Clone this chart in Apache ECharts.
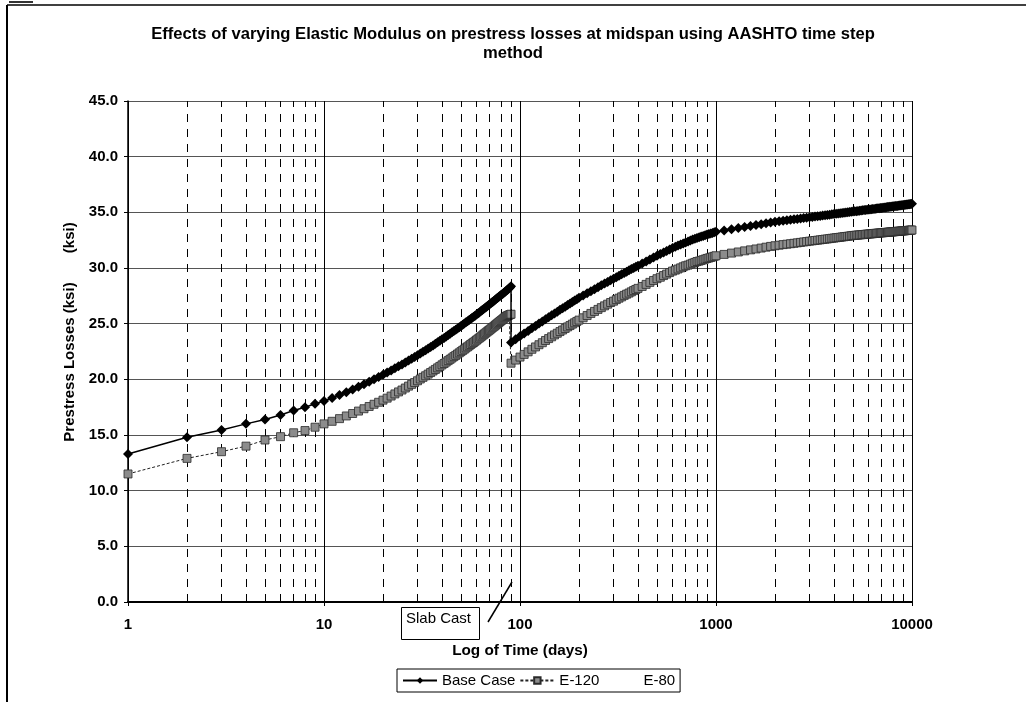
<!DOCTYPE html>
<html>
<head>
<meta charset="utf-8">
<script src="https://cdn.jsdelivr.net/npm/echarts@6/dist/echarts.min.js"></script>
<style>
html,body{margin:0;padding:0;background:#fff;}
#chart{width:1026px;height:702px;}
</style>
</head>
<body>
<div id="chart"></div>
<script>
// ---- data ----
var titleText = 'Effects of varying Elastic Modulus on prestress losses at midspan using AASHTO time step\nmethod';
var xAxisName = 'Log of Time (days)';
var yAxisName = 'Prestress Losses (ksi)       (ksi)';
var seriesNames = ['Base Case', 'E-120', 'E-80'];
var annotationText = 'Slab Cast';
var yTicks = [0, 5, 10, 15, 20, 25, 30, 35, 40, 45];
var xMajorTicks = [1, 10, 100, 1000, 10000];
var xMinorTicks = [2,3,4,5,6,7,8,9,20,30,40,50,60,70,80,90,200,300,400,500,600,700,800,900,2000,3000,4000,5000,6000,7000,8000,9000];

// before slab cast (daily)
var preDays = [1,2,3,4,5,6,7,8,9,10,11,12,13,14,15,16,17,18,19,20,21,22,23,24,25,26,27,28,29,30,
31,32,33,34,35,36,37,38,39,40,41,42,43,44,45,46,47,48,49,50,51,52,53,54,55,56,57,58,59,60,
61,62,63,64,65,66,67,68,69,70,71,72,73,74,75,76,77,78,79,80,81,82,83,84,85,86,87,88,89,90];
var preBase = [13.3,14.8,15.45,16.0,16.4,16.8,17.2,17.5,17.8,18.05,
18.33,18.59,18.85,19.09,19.33,19.56,19.78,20.0,20.2,20.41,
20.61,20.8,20.99,21.17,21.34,21.52,21.69,21.85,22.01,22.17,
22.33,22.48,22.62,22.77,22.91,23.05,23.19,23.33,23.46,23.6,
23.72,23.85,23.98,24.1,24.22,24.34,24.45,24.57,24.68,24.79,
24.9,25.01,25.12,25.22,25.32,25.43,25.53,25.62,25.72,25.82,
25.92,26.01,26.11,26.2,26.3,26.39,26.48,26.57,26.66,26.74,
26.83,26.92,27.0,27.08,27.17,27.25,27.33,27.41,27.49,27.57,
27.64,27.72,27.8,27.87,27.95,28.02,28.09,28.17,28.24,28.35];
var preE120 = [11.5,12.9,13.5,14.0,14.55,14.85,15.2,15.4,15.7,16.0,
16.23,16.47,16.71,16.93,17.15,17.36,17.56,17.76,17.94,18.13,
18.31,18.5,18.69,18.87,19.04,19.22,19.39,19.55,19.71,19.87,
20.03,20.18,20.32,20.47,20.61,20.75,20.89,21.03,21.16,21.3,
21.42,21.55,21.68,21.8,21.92,22.04,22.15,22.27,22.38,22.49,
22.6,22.71,22.82,22.92,23.02,23.13,23.23,23.32,23.42,23.52,
23.62,23.71,23.81,23.9,24.0,24.09,24.18,24.27,24.36,24.44,
24.53,24.62,24.7,24.78,24.87,24.95,25.03,25.11,25.19,25.27,
25.34,25.42,25.5,25.57,25.65,25.7,25.74,25.78,25.82,25.85];

// after slab cast
var postDays = [90,95,100,105,110,115,120,125,130,135,140,145,150,155,160,165,170,175,180,185,190,195,200,
210,220,230,240,250,260,270,280,290,300,310,320,330,340,350,360,370,380,390,400,
420,440,460,480,500,520,540,560,580,600,620,640,660,680,700,720,740,760,780,800,820,840,860,880,900,920,940,960,980,1000,
1100,1200,1300,1400,1500,1600,1700,1800,1900,2000,2100,2200,2300,2400,2500,2600,2700,2800,2900,3000,
3100,3200,3300,3400,3500,3600,3700,3800,3900,4000,4100,4200,4300,4400,4500,4600,4700,4800,4900,5000,
5100,5200,5300,5400,5500,5600,5700,5800,5900,6000,6100,6200,6300,6400,6500,6600,6700,6800,6900,7000,
7100,7200,7300,7400,7500,7600,7700,7800,7900,8000,8100,8200,8300,8400,8500,8600,8700,8800,8900,9000,
9100,9200,9300,9400,9500,9600,9700,9800,9900,10000];
var postBase = [23.3,23.59,23.86,24.11,24.35,24.58,24.8,25.01,25.2,25.4,25.58,25.75,25.92,26.08,26.24,26.39,26.53,26.68,26.81,26.94,27.07,27.2,27.32,
27.53,27.73,27.92,28.1,28.28,28.44,28.6,28.75,28.9,29.04,29.18,29.31,29.43,29.56,29.67,29.79,29.9,30.01,30.11,30.21,
30.4,30.59,30.77,30.94,31.1,31.25,31.4,31.53,31.67,31.8,31.91,32.01,32.11,32.21,32.3,32.38,32.47,32.55,32.62,32.7,32.76,32.82,32.88,32.94,33.0,33.05,33.1,33.15,33.2,33.25,
33.37,33.49,33.59,33.69,33.78,33.86,33.94,34.02,34.09,34.15,
34.2,34.25,34.29,34.33,34.37,34.41,34.45,34.49,34.52,34.56,
34.59,34.62,34.65,34.68,34.71,34.74,34.76,34.79,34.82,34.84,
34.87,34.89,34.91,34.94,34.96,34.98,35.0,35.02,35.05,35.07,
35.09,35.1,35.12,35.14,35.16,35.18,35.2,35.21,35.23,35.25,
35.26,35.28,35.3,35.31,35.33,35.34,35.36,35.37,35.39,35.4,
35.42,35.43,35.44,35.46,35.47,35.48,35.5,35.51,35.52,35.54,
35.55,35.56,35.57,35.58,35.6,35.61,35.62,35.63,35.64,35.65,
35.66,35.67,35.69,35.7,35.71,35.72,35.73,35.74,35.75,35.76];
var postE120 = [21.45,21.73,22.0,22.24,22.47,22.7,22.91,23.11,23.29,23.49,23.66,23.82,23.99,24.14,24.29,24.43,24.57,24.71,24.83,24.96,25.08,25.2,25.32,
25.53,25.73,25.92,26.1,26.28,26.44,26.6,26.75,26.9,27.02,27.16,27.29,27.41,27.54,27.65,27.75,27.86,27.97,28.07,28.17,
28.34,28.53,28.71,28.88,29.04,29.17,29.32,29.45,29.59,29.72,29.81,29.91,30.01,30.11,30.2,30.26,30.35,30.43,30.5,30.58,30.62,30.68,30.74,30.8,30.86,30.9,30.95,31.0,31.05,31.1,
31.22,31.34,31.44,31.54,31.63,31.71,31.79,31.87,31.94,32.0,
32.05,32.1,32.14,32.18,32.22,32.26,32.3,32.34,32.37,32.41,
32.44,32.47,32.5,32.53,32.56,32.59,32.61,32.64,32.67,32.69,
32.72,32.74,32.76,32.79,32.81,32.83,32.85,32.87,32.9,32.92,
32.93,32.95,32.96,32.97,32.99,33.0,33.01,33.03,33.04,33.05,
33.06,33.07,33.08,33.1,33.11,33.12,33.13,33.14,33.15,33.16,
33.17,33.18,33.19,33.2,33.21,33.22,33.23,33.24,33.24,33.25,
33.26,33.27,33.28,33.29,33.3,33.3,33.31,33.32,33.33,33.34,
33.34,33.35,33.36,33.37,33.37,33.38,33.39,33.4,33.4,33.41];

// ---- build ----
function pairs(xs, ys) { var out = []; for (var i = 0; i < xs.length; i++) out.push([xs[i], ys[i]]); return out; }
var baseData = pairs(preDays, preBase).concat(pairs(postDays, postBase));
var e120Data = pairs(preDays, preE120).concat(pairs(postDays, postE120));

var FONT = "'Liberation Sans', Arial, sans-serif";
var chart = echarts.init(document.getElementById('chart'), null, {renderer: 'canvas'});

chart.setOption({
  animation: false,
  backgroundColor: '#fff',
  title: {
    text: titleText,
    left: 'center',
    top: 20,
    textStyle: {fontFamily: FONT, fontSize: 16.6, fontWeight: 'bold', color: '#000', lineHeight: 19, align: 'center'}
  },
  grid: {left: 128, right: 114, top: 101, bottom: 100, containLabel: false},
  legend: {
    data: seriesNames,
    left: 397, top: 669,
    padding: [4, 5, 4, 5],
    borderColor: '#000', borderWidth: 1,
    itemWidth: 34, itemHeight: 8, itemGap: 4,
    textStyle: {fontFamily: FONT, fontSize: 15, color: '#000'}
  },
  xAxis: {
    type: 'log', logBase: 10, min: xMajorTicks[0], max: xMajorTicks[xMajorTicks.length - 1],
    name: xAxisName, nameLocation: 'middle', nameGap: 41,
    nameTextStyle: {fontFamily: FONT, fontSize: 15.3, fontWeight: 'bold', color: '#000'},
    axisLine: {lineStyle: {color: '#000', width: 2}},
    axisTick: {show: true, length: 4, lineStyle: {color: '#000'}},
    axisLabel: {fontFamily: FONT, fontSize: 15, fontWeight: 'bold', color: '#000', margin: 15,
      formatter: function (v) { return String(Math.round(v)); }},
    splitLine: {show: true, lineStyle: {color: '#000', width: 1}}
  },
  yAxis: {
    type: 'value', min: yTicks[0], max: yTicks[yTicks.length - 1], interval: 5,
    axisLine: {show: true, lineStyle: {color: '#000', width: 1.5}},
    axisTick: {show: true, length: 4, lineStyle: {color: '#000'}},
    axisLabel: {fontFamily: FONT, fontSize: 15, fontWeight: 'bold', color: '#000', margin: 10,
      formatter: function (v) { return v.toFixed(1); }},
    splitLine: {show: true, lineStyle: {color: '#555', width: 1}}
  },
  series: [
    {
      name: seriesNames[0], type: 'line', data: baseData,
      symbol: 'diamond', symbolSize: 10, showAllSymbol: true,
      itemStyle: {color: '#000'},
      lineStyle: {color: '#000', width: 1.5},
      z: 4,
      markLine: {
        silent: true, symbol: ['none', 'none'], z: 1,
        label: {show: false},
        lineStyle: {color: '#000', width: 1, type: [8, 7]},
        emphasis: {disabled: true},
        data: xMinorTicks.map(function (v) { return {xAxis: v}; })
      }
    },
    {
      name: seriesNames[1], type: 'line', data: e120Data,
      symbol: 'rect', symbolSize: 8, showAllSymbol: true,
      itemStyle: {color: '#8c8c8c', borderColor: '#2a2a2a', borderWidth: 0.8},
      lineStyle: {color: '#222', width: 1, type: [3, 2]},
      z: 3
    },
    {
      name: seriesNames[2], type: 'line', data: [],
      symbol: 'none',
      itemStyle: {color: '#fff'},
      lineStyle: {color: '#fff', width: 1}
    }
  ],
  graphic: [
    {type: 'line', shape: {x1: 7, y1: 5, x2: 1026, y2: 5}, style: {stroke: '#000', lineWidth: 1.5}},
    {type: 'line', shape: {x1: 7, y1: 5, x2: 7, y2: 702}, style: {stroke: '#000', lineWidth: 2}},
    {type: 'line', shape: {x1: 9, y1: 2, x2: 33, y2: 2}, style: {stroke: '#333', lineWidth: 2}},
    {
      type: 'text', x: 70, y: 332, rotation: Math.PI / 2,
      style: {text: yAxisName, fontFamily: FONT, fontSize: 15, fontWeight: 'bold', fill: '#000',
        align: 'center', verticalAlign: 'middle'}
    },
    {type: 'rect', shape: {x: 401.5, y: 607.5, width: 78, height: 32}, style: {fill: '#fff', stroke: '#000', lineWidth: 1}},
    {type: 'text', x: 406, y: 611, style: {text: annotationText, fontFamily: FONT, fontSize: 15, fill: '#000', align: 'left', verticalAlign: 'top'}},
    {type: 'line', shape: {x1: 488, y1: 622, x2: 512, y2: 582}, style: {stroke: '#000', lineWidth: 1.5}}
  ]
});
</script>
</body>
</html>
